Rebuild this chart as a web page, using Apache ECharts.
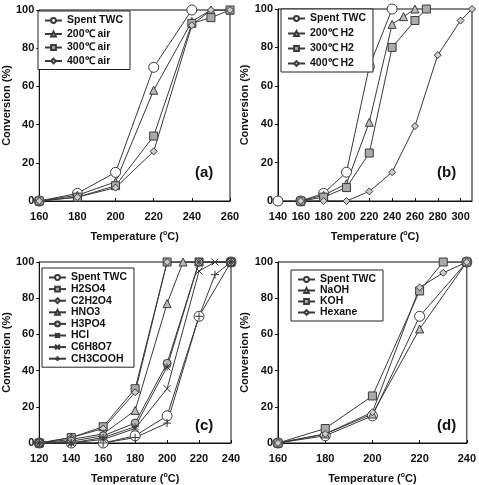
<!DOCTYPE html>
<html>
<head>
<meta charset="utf-8">
<script src="https://cdn.jsdelivr.net/npm/echarts@6/dist/echarts.min.js"></script>
<style>
  html, body { margin: 0; padding: 0; background: #fff; }
  #chart { width: 479px; height: 485px; }
</style>
</head>
<body>
<div id="chart"></div>
<script>
// (a) air treatment
var aSpent = [[160, 0], [180, 4], [200, 15], [220, 70], [240, 100]];
var aAir200 = [[160, 0], [180, 3], [200, 10], [220, 58], [240, 94], [250, 100], [260, 100]];
var aAir300 = [[160, 0], [180, 2], [200, 8], [220, 34], [240, 93], [250, 96], [260, 100]];
var aAir400 = [[160, 0], [180, 2], [200, 7], [220, 26], [240, 92], [250, 100], [260, 100]];
// (b) H2 treatment
var bSpent = [[140, 0], [160, 0], [180, 4], [200, 15], [220, 70], [240, 100]];
var bH200 = [[160, 0], [180, 3], [200, 9], [220, 41], [240, 92], [250, 96], [260, 100]];
var bH300 = [[160, 0], [180, 2], [200, 7], [220, 25], [240, 80], [260, 94], [270, 100]];
var bH400 = [[160, 0], [180, 0], [200, 0], [220, 5], [240, 15], [260, 39], [280, 76], [300, 94], [310, 100]];
// (c) acids
var cSpent = [[120, 0], [140, 0], [160, 0], [180, 4], [200, 15], [220, 70], [240, 100]];
var cH2SO4 = [[120, 0], [140, 3], [160, 9], [180, 30], [200, 100], [220, 100], [240, 100]];
var cC2H2O4 = [[120, 0], [140, 3], [160, 8], [180, 28], [200, 100], [220, 100], [240, 100]];
var cHNO3 = [[120, 0], [140, 2], [160, 5], [180, 18], [200, 77], [210, 100], [240, 100]];
var cH3PO4 = [[120, 0], [140, 1], [160, 4], [180, 11], [200, 44], [220, 100], [240, 100]];
var cHCl = [[120, 0], [140, 0], [160, 3], [180, 9], [200, 42], [220, 100], [240, 100]];
var cC6H8O7 = [[120, 0], [140, 0], [160, 2], [180, 8], [200, 30], [220, 95], [230, 100], [240, 100]];
var cCH3COOH = [[120, 0], [140, 0], [160, 0], [180, 3], [200, 11], [220, 70], [230, 93], [240, 100]];
// (d) bases and hexane
var dSpent = [[160, 0], [180, 4], [200, 15], [220, 70], [240, 100]];
var dNaOH = [[160, 0], [180, 5], [200, 16], [220, 63], [240, 100]];
var dKOH = [[160, 0], [180, 8], [200, 26], [220, 84], [230, 100], [240, 100]];
var dHexane = [[160, 0], [180, 5], [200, 17], [220, 86], [230, 94], [240, 100]];

var yTicks = [0, 20, 40, 60, 80, 100];

var lineColor = '#3a3a3a';
var font = 'Arial, "Liberation Sans", sans-serif';
var pathX = 'path://M0,0L10,10M10,0L0,10';
var pathPlus = 'path://M5,0L5,10M0,5L10,5';
var pathStar = 'path://M0,0L10,10M10,0L0,10M5,0L5,10M0,5L10,5';

// marker styles
var mk = {
  spent: { symbol: 'circle', size: 10, fill: '#fff' },
  tri: { symbol: 'triangle', size: 8, fill: '#bbb' },
  sq: { symbol: 'rect', size: 8, fill: '#aaa' },
  dia: { symbol: 'diamond', size: 7, fill: '#ccc' },
  circ: { symbol: 'circle', size: 8, fill: '#bbb' },
  x: { symbol: pathX, size: 7, fill: lineColor },
  plus: { symbol: pathPlus, size: 8, fill: lineColor },
  star: { symbol: pathStar, size: 7, fill: lineColor }
};

function makeSeries(name, data, m, idx) {
  return {
    name: name,
    type: 'line',
    xAxisIndex: idx,
    yAxisIndex: idx,
    data: data,
    symbol: m.symbol,
    symbolSize: m.size,
    showAllSymbol: true,
    lineStyle: { color: lineColor, width: 1 },
    itemStyle: { color: m.fill, borderColor: lineColor, borderWidth: 1 },
    emphasis: { disabled: true },
    animation: false,
    z: 3
  };
}

function makeLegend(names, left, top, gap) {
  return {
    orient: 'vertical',
    left: left,
    top: top,
    data: names,
    itemWidth: 17,
    itemHeight: 6,
    itemGap: gap,
    padding: [4, 7, 3, 6],
    borderColor: '#222',
    borderWidth: 1,
    backgroundColor: '#fff',
    selectedMode: false,
    textStyle: { fontFamily: font, fontWeight: 'bold', fontSize: 10.5, color: '#111' }
  };
}

function makeX(idx, min, max) {
  return {
    type: 'value',
    gridIndex: idx,
    min: min,
    max: max,
    interval: 20,
    name: '{n|Temperature (}{s|o}{n|C)}',
    nameLocation: 'middle',
    nameGap: 29,
    nameTextStyle: {
      rich: {
        n: { fontFamily: font, fontWeight: 'bold', fontSize: 11, color: '#111' },
        s: { fontFamily: font, fontWeight: 'bold', fontSize: 7, color: '#111', verticalAlign: 'top', padding: [0, 0, 6, 0] }
      }
    },
    axisLine: { lineStyle: { color: '#111', width: 1 } },
    axisTick: { inside: true, length: 3, lineStyle: { color: '#111' } },
    axisLabel: { fontFamily: font, fontWeight: 'bold', fontSize: 11, color: '#111', margin: 10 },
    splitLine: { show: false }
  };
}

function makeY(idx) {
  return {
    type: 'value',
    gridIndex: idx,
    min: yTicks[0],
    max: yTicks[yTicks.length - 1],
    interval: 20,
    name: 'Conversion (%)',
    nameLocation: 'middle',
    nameGap: 26,
    nameTextStyle: { fontFamily: font, fontWeight: 'bold', fontSize: 11, color: '#111' },
    axisLine: { lineStyle: { color: '#111', width: 1 } },
    axisTick: { inside: false, length: 3, lineStyle: { color: '#111' } },
    axisLabel: { fontFamily: font, fontWeight: 'bold', fontSize: 11, color: '#111', margin: 5 },
    splitLine: { show: false }
  };
}

function gridBox(left, top, w, h) {
  return { left: left, top: top, width: w, height: h, show: true, borderColor: '#111', borderWidth: 1, backgroundColor: 'transparent' };
}

var series = [
  makeSeries('Spent TWC', aSpent, mk.spent, 0),
  makeSeries('200℃ air', aAir200, mk.tri, 0),
  makeSeries('300℃ air', aAir300, mk.sq, 0),
  makeSeries('400℃ air', aAir400, mk.dia, 0),
  makeSeries('Spent TWC', bSpent, mk.spent, 1),
  makeSeries('200℃ H2', bH200, mk.tri, 1),
  makeSeries('300℃ H2', bH300, mk.sq, 1),
  makeSeries('400℃ H2', bH400, mk.dia, 1),
  makeSeries('Spent TWC', cSpent, mk.spent, 2),
  makeSeries('H2SO4', cH2SO4, mk.sq, 2),
  makeSeries('C2H2O4', cC2H2O4, mk.dia, 2),
  makeSeries('HNO3', cHNO3, mk.tri, 2),
  makeSeries('H3PO4', cH3PO4, mk.circ, 2),
  makeSeries('HCl', cHCl, mk.star, 2),
  makeSeries('C6H8O7', cC6H8O7, mk.x, 2),
  makeSeries('CH3COOH', cCH3COOH, mk.plus, 2),
  makeSeries('Spent TWC', dSpent, mk.spent, 3),
  makeSeries('NaOH', dNaOH, mk.tri, 3),
  makeSeries('KOH', dKOH, mk.sq, 3),
  makeSeries('Hexane', dHexane, mk.dia, 3)
];

function panelLabel(text, x, y) {
  return {
    type: 'text', left: x, top: y, z: 10,
    style: { text: text, font: 'bold 15px ' + font, fill: '#111' }
  };
}

var chart = echarts.init(document.getElementById('chart'), null, { renderer: 'canvas' });
chart.setOption({
  animation: false,
  backgroundColor: '#fff',
  grid: [
    gridBox(36, 10, 194, 191),
    gridBox(278, 9, 194, 192),
    gridBox(36, 262, 195, 192),
    gridBox(278, 262, 194, 193)
  ],
  xAxis: [makeX(0, 160, 260), makeX(1, 140, 310), makeX(2, 120, 240), makeX(3, 160, 240)],
  yAxis: [makeY(0), makeY(1), makeY(2), makeY(3)],
  legend: [
    makeLegend(['Spent TWC', '200℃ air', '300℃ air', '400℃ air'], 38, 11, 2.5),
    makeLegend(['Spent TWC', '200℃ H2', '300℃ H2', '400℃ H2'], 281, 9, 4),
    makeLegend(['Spent TWC', 'H2SO4', 'C2H2O4', 'HNO3', 'H3PO4', 'HCl', 'C6H8O7', 'CH3COOH'], 42, 268, 0.6),
    makeLegend(['Spent TWC', 'NaOH', 'KOH', 'Hexane'], 291, 270, 0)
  ],
  graphic: [
    panelLabel('(a)', 195, 165),
    panelLabel('(b)', 437, 165),
    panelLabel('(c)', 195, 418),
    panelLabel('(d)', 437, 418)
  ],
  series: series
});
</script>
</body>
</html>
